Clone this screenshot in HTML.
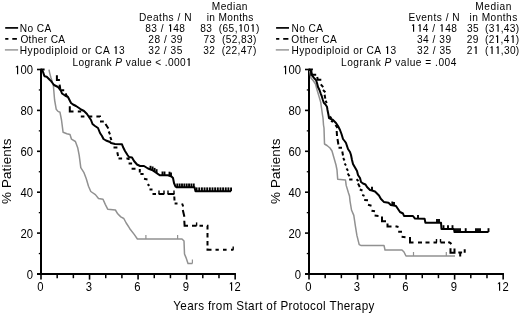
<!DOCTYPE html>
<html><head><meta charset="utf-8"><style>
html,body{margin:0;padding:0;background:#fff;width:520px;height:314px;overflow:hidden}
svg{display:block;will-change:transform}
text{font-family:"Liberation Sans",sans-serif;fill:#000}
.h{font-size:10.7px}
.t{font-size:12px}
.x{font-size:12.3px}
.p{font-size:13.4px}
.one{fill-opacity:0}
</style></head><body>
<svg width="520" height="314" viewBox="0 0 520 314">
<line x1="41" y1="68.8" x2="41" y2="275" stroke="#000" stroke-width="2"/>
<line x1="37" y1="274" x2="235.96" y2="274" stroke="#000" stroke-width="2"/>
<line x1="37" y1="274.00" x2="41" y2="274.00" stroke="#000" stroke-width="1.6"/>
<line x1="38.8" y1="253.55" x2="41" y2="253.55" stroke="#000" stroke-width="1.3"/>
<line x1="37" y1="233.10" x2="41" y2="233.10" stroke="#000" stroke-width="1.6"/>
<line x1="38.8" y1="212.65" x2="41" y2="212.65" stroke="#000" stroke-width="1.3"/>
<line x1="37" y1="192.20" x2="41" y2="192.20" stroke="#000" stroke-width="1.6"/>
<line x1="38.8" y1="171.75" x2="41" y2="171.75" stroke="#000" stroke-width="1.3"/>
<line x1="37" y1="151.30" x2="41" y2="151.30" stroke="#000" stroke-width="1.6"/>
<line x1="38.8" y1="130.85" x2="41" y2="130.85" stroke="#000" stroke-width="1.3"/>
<line x1="37" y1="110.40" x2="41" y2="110.40" stroke="#000" stroke-width="1.6"/>
<line x1="38.8" y1="89.95" x2="41" y2="89.95" stroke="#000" stroke-width="1.3"/>
<line x1="37" y1="69.50" x2="41" y2="69.50" stroke="#000" stroke-width="1.6"/>
<line x1="41.00" y1="274" x2="41.00" y2="279.6" stroke="#000" stroke-width="1.6"/>
<line x1="57.18" y1="274" x2="57.18" y2="278.2" stroke="#000" stroke-width="1.5"/>
<line x1="73.36" y1="274" x2="73.36" y2="278.2" stroke="#000" stroke-width="1.5"/>
<line x1="89.54" y1="274" x2="89.54" y2="279.6" stroke="#000" stroke-width="1.6"/>
<line x1="105.72" y1="274" x2="105.72" y2="278.2" stroke="#000" stroke-width="1.5"/>
<line x1="121.90" y1="274" x2="121.90" y2="278.2" stroke="#000" stroke-width="1.5"/>
<line x1="138.08" y1="274" x2="138.08" y2="279.6" stroke="#000" stroke-width="1.6"/>
<line x1="154.26" y1="274" x2="154.26" y2="278.2" stroke="#000" stroke-width="1.5"/>
<line x1="170.44" y1="274" x2="170.44" y2="278.2" stroke="#000" stroke-width="1.5"/>
<line x1="186.62" y1="274" x2="186.62" y2="279.6" stroke="#000" stroke-width="1.6"/>
<line x1="202.80" y1="274" x2="202.80" y2="278.2" stroke="#000" stroke-width="1.5"/>
<line x1="218.98" y1="274" x2="218.98" y2="278.2" stroke="#000" stroke-width="1.5"/>
<line x1="235.16" y1="274" x2="235.16" y2="279.6" stroke="#000" stroke-width="1.6"/>
<text x="35.106" y="278.75" text-anchor="end" class="t" transform="scale(0.94,1)">0</text>
<text x="35.106" y="237.85" text-anchor="end" class="t" transform="scale(0.94,1)">20</text>
<text x="35.106" y="196.95" text-anchor="end" class="t" transform="scale(0.94,1)">40</text>
<text x="35.106" y="156.05" text-anchor="end" class="t" transform="scale(0.94,1)">60</text>
<text x="35.106" y="115.15" text-anchor="end" class="t" transform="scale(0.94,1)">80</text>
<text x="35.106" y="74.25" text-anchor="end" class="t" transform="scale(0.94,1)"><tspan class="one">1</tspan>00</text>
<text x="42.872" y="290.8" text-anchor="middle" class="t" transform="scale(0.94,1)">0</text>
<text x="94.511" y="290.8" text-anchor="middle" class="t" transform="scale(0.94,1)">3</text>
<text x="146.149" y="290.8" text-anchor="middle" class="t" transform="scale(0.94,1)">6</text>
<text x="197.787" y="290.8" text-anchor="middle" class="t" transform="scale(0.94,1)">9</text>
<text x="249.426" y="290.8" text-anchor="middle" class="t" transform="scale(0.94,1)"><tspan class="one">1</tspan>2</text>
<line x1="309" y1="68.8" x2="309" y2="275" stroke="#000" stroke-width="2"/>
<line x1="305" y1="274" x2="503.96" y2="274" stroke="#000" stroke-width="2"/>
<line x1="305" y1="274.00" x2="309" y2="274.00" stroke="#000" stroke-width="1.6"/>
<line x1="306.8" y1="253.55" x2="309" y2="253.55" stroke="#000" stroke-width="1.3"/>
<line x1="305" y1="233.10" x2="309" y2="233.10" stroke="#000" stroke-width="1.6"/>
<line x1="306.8" y1="212.65" x2="309" y2="212.65" stroke="#000" stroke-width="1.3"/>
<line x1="305" y1="192.20" x2="309" y2="192.20" stroke="#000" stroke-width="1.6"/>
<line x1="306.8" y1="171.75" x2="309" y2="171.75" stroke="#000" stroke-width="1.3"/>
<line x1="305" y1="151.30" x2="309" y2="151.30" stroke="#000" stroke-width="1.6"/>
<line x1="306.8" y1="130.85" x2="309" y2="130.85" stroke="#000" stroke-width="1.3"/>
<line x1="305" y1="110.40" x2="309" y2="110.40" stroke="#000" stroke-width="1.6"/>
<line x1="306.8" y1="89.95" x2="309" y2="89.95" stroke="#000" stroke-width="1.3"/>
<line x1="305" y1="69.50" x2="309" y2="69.50" stroke="#000" stroke-width="1.6"/>
<line x1="309.00" y1="274" x2="309.00" y2="279.6" stroke="#000" stroke-width="1.6"/>
<line x1="325.18" y1="274" x2="325.18" y2="278.2" stroke="#000" stroke-width="1.5"/>
<line x1="341.36" y1="274" x2="341.36" y2="278.2" stroke="#000" stroke-width="1.5"/>
<line x1="357.54" y1="274" x2="357.54" y2="279.6" stroke="#000" stroke-width="1.6"/>
<line x1="373.72" y1="274" x2="373.72" y2="278.2" stroke="#000" stroke-width="1.5"/>
<line x1="389.90" y1="274" x2="389.90" y2="278.2" stroke="#000" stroke-width="1.5"/>
<line x1="406.08" y1="274" x2="406.08" y2="279.6" stroke="#000" stroke-width="1.6"/>
<line x1="422.26" y1="274" x2="422.26" y2="278.2" stroke="#000" stroke-width="1.5"/>
<line x1="438.44" y1="274" x2="438.44" y2="278.2" stroke="#000" stroke-width="1.5"/>
<line x1="454.62" y1="274" x2="454.62" y2="279.6" stroke="#000" stroke-width="1.6"/>
<line x1="470.80" y1="274" x2="470.80" y2="278.2" stroke="#000" stroke-width="1.5"/>
<line x1="486.98" y1="274" x2="486.98" y2="278.2" stroke="#000" stroke-width="1.5"/>
<line x1="503.16" y1="274" x2="503.16" y2="279.6" stroke="#000" stroke-width="1.6"/>
<text x="320.213" y="278.75" text-anchor="end" class="t" transform="scale(0.94,1)">0</text>
<text x="320.213" y="237.85" text-anchor="end" class="t" transform="scale(0.94,1)">20</text>
<text x="320.213" y="196.95" text-anchor="end" class="t" transform="scale(0.94,1)">40</text>
<text x="320.213" y="156.05" text-anchor="end" class="t" transform="scale(0.94,1)">60</text>
<text x="320.213" y="115.15" text-anchor="end" class="t" transform="scale(0.94,1)">80</text>
<text x="320.213" y="74.25" text-anchor="end" class="t" transform="scale(0.94,1)"><tspan class="one">1</tspan>00</text>
<text x="327.979" y="290.8" text-anchor="middle" class="t" transform="scale(0.94,1)">0</text>
<text x="379.617" y="290.8" text-anchor="middle" class="t" transform="scale(0.94,1)">3</text>
<text x="431.255" y="290.8" text-anchor="middle" class="t" transform="scale(0.94,1)">6</text>
<text x="482.894" y="290.8" text-anchor="middle" class="t" transform="scale(0.94,1)">9</text>
<text x="534.532" y="290.8" text-anchor="middle" class="t" transform="scale(0.94,1)"><tspan class="one">1</tspan>2</text>
<polyline points="49,69.6 49.7,73.1 50.8,77.2 51.8,80.3 53.4,86 54.6,100 56.2,109.2 58,111.4 60,112.3 61.5,120 63.1,132.3 66.9,133.8 70,134.6 71.5,139.2 75.4,141.5 77.7,147.7 79.2,155.4 80.8,167.7 83.8,172.3 86.2,178.5 88.5,186.2 90.8,191.5 95.4,194.6 98.5,198.5 103,199.2 105.4,204.6 107.7,209.2 115.4,210 117.7,213.8 120.8,216.9 123.8,218.5 126.2,223 129.2,227.7 130,229 134.2,234.4 137.4,239 182,239 184,241 184.5,254 186,257.6 188,263.5 192.4,263.5" fill="none" stroke="#919191" stroke-width="1.5" stroke-linejoin="round"/>
<line x1="145.9" y1="235" x2="145.9" y2="239" stroke="#919191" stroke-width="1.2"/>
<line x1="177.6" y1="235" x2="177.6" y2="239" stroke="#919191" stroke-width="1.2"/>
<line x1="192.4" y1="259.5" x2="192.4" y2="263.5" stroke="#919191" stroke-width="1.2"/>
<path d="M41,69.6 L44.6,69.6 M56.9,75.2 L56.9,79.9 L59.9,79.9 M59.6,84.6 L60.3,89.0 M60.6,90.2 L64.2,90.2 M65.6,93.4 L67.0,96.6 M69.8,106.3 L69.8,111.4 L73.5,111.4 M77.8,111.4 L80.2,111.4 L80.2,112.6 M80.8,116.4 L84.4,116.4 M88.5,116.4 L92.3,116.4 M96.4,116.4 L100.0,116.4 L100.0,116.9 M100.0,121.6 L103.8,121.6 M105.5,124.0 L108.4,128.5 M108.7,131.5 L110.0,134.3 M110.3,137.0 L111.4,140.2 M113.5,147.5 L117.4,147.5 M117.3,152.2 L118.1,156.0 M118.5,158.5 L122.1,158.5 M126.4,158.5 L128.6,158.5 L128.6,160.0 M128.6,163.6 L132.1,163.6 M131.6,168.7 L135.5,168.7 M139.8,169.0 L139.8,172.5 M140.4,174.0 L143.6,174.0 M144.0,178.8 L147.5,179.4 M147.6,184.2 L149.4,185.8 M149.5,189.6 L152.5,189.6 M152.5,194.0 L156.0,194.0 M158.6,194.0 L164.3,194.0 M167.6,194.0 L174.4,194.0 M174.3,196.5 L174.5,200.5 M174.6,203.5 L177.5,203.5 M182.1,203.5 L183.2,206.5 M182.8,210.0 L184.4,216.7 M184.3,220.8 L184.6,225.8 L188.0,225.8 M192.0,225.8 L196.6,225.8 M199.5,225.8 L203.0,225.8 M207.0,225.8 L207.5,225.8 L207.5,229.5 M207.5,233.0 L207.5,237.5 M207.5,241.0 L207.5,245.5 M207.5,248.5 L207.5,249.8 L211.5,249.8 M215.5,249.8 L218.8,249.8 M223.0,249.8 L226.6,249.8 M231.0,249.8 L233.4,249.8" fill="none" stroke="#000" stroke-width="2.0" stroke-linejoin="miter"/>
<line x1="159" y1="190.6" x2="159" y2="194" stroke="#000" stroke-width="1.4"/>
<line x1="164" y1="190.6" x2="164" y2="194" stroke="#000" stroke-width="1.4"/>
<line x1="168" y1="190.6" x2="168" y2="194" stroke="#000" stroke-width="1.4"/>
<line x1="174" y1="190.6" x2="174" y2="194" stroke="#000" stroke-width="1.4"/>
<line x1="196.6" y1="222.4" x2="196.6" y2="225.8" stroke="#000" stroke-width="1.4"/>
<line x1="233.2" y1="246.4" x2="233.2" y2="249.8" stroke="#000" stroke-width="1.4"/>
<polyline points="41,69.6 42.1,70.1 43.1,72.1 44.1,75.2 44.6,76.2 46.7,76.7 48.2,78.2 49.7,79.8 51.3,81.3 52.5,83 54,85 56,86 58,87 59.5,89 61,91 62,93.5 65,95.5 68,97 69.5,100 71,103 73,104.5 76,106 79,108 81,109.5 84,111 87,114 89,117 91,120 92.5,124 95,126 98,128 100,133 102,136 103.5,139 106,140.5 110,142 111,143 115,144 122,144.3 123,147 125,151 127.5,155 129,157 132,157.5 134,161 137,164.5 140,166 144,166 148,168.5 152,170 155,172 160,175.3 168,175.3 171.5,176.5 173,178 174,183 175.5,186.5 176.5,187.3 194.5,187.3 195.5,191.2 231,191.2" fill="none" stroke="#000" stroke-width="2.0" stroke-linejoin="round"/>
<line x1="150.5" y1="165.79999999999998" x2="150.5" y2="169.6" stroke="#000" stroke-width="1.9"/>
<line x1="152.6" y1="166.5" x2="152.6" y2="170.3" stroke="#000" stroke-width="1.9"/>
<line x1="154.6" y1="167.89999999999998" x2="154.6" y2="171.7" stroke="#000" stroke-width="1.9"/>
<line x1="156.6" y1="169.2" x2="156.6" y2="173" stroke="#000" stroke-width="1.9"/>
<line x1="162.5" y1="171.5" x2="162.5" y2="175.3" stroke="#000" stroke-width="1.9"/>
<line x1="164.5" y1="171.5" x2="164.5" y2="175.3" stroke="#000" stroke-width="1.9"/>
<line x1="169.5" y1="171.7" x2="169.5" y2="175.5" stroke="#000" stroke-width="1.9"/>
<line x1="171" y1="172.5" x2="171" y2="176.3" stroke="#000" stroke-width="1.9"/>
<line x1="177.3" y1="183.5" x2="177.3" y2="187.3" stroke="#000" stroke-width="1.9"/>
<line x1="179.65" y1="183.5" x2="179.65" y2="187.3" stroke="#000" stroke-width="1.9"/>
<line x1="182.0" y1="183.5" x2="182.0" y2="187.3" stroke="#000" stroke-width="1.9"/>
<line x1="184.35000000000002" y1="183.5" x2="184.35000000000002" y2="187.3" stroke="#000" stroke-width="1.9"/>
<line x1="186.70000000000002" y1="183.5" x2="186.70000000000002" y2="187.3" stroke="#000" stroke-width="1.9"/>
<line x1="189.05" y1="183.5" x2="189.05" y2="187.3" stroke="#000" stroke-width="1.9"/>
<line x1="191.4" y1="183.5" x2="191.4" y2="187.3" stroke="#000" stroke-width="1.9"/>
<line x1="193.75" y1="183.5" x2="193.75" y2="187.3" stroke="#000" stroke-width="1.9"/>
<line x1="196.6" y1="187.39999999999998" x2="196.6" y2="191.2" stroke="#000" stroke-width="1.9"/>
<line x1="199.25" y1="187.39999999999998" x2="199.25" y2="191.2" stroke="#000" stroke-width="1.9"/>
<line x1="201.9" y1="187.39999999999998" x2="201.9" y2="191.2" stroke="#000" stroke-width="1.9"/>
<line x1="204.54999999999998" y1="187.39999999999998" x2="204.54999999999998" y2="191.2" stroke="#000" stroke-width="1.9"/>
<line x1="207.2" y1="187.39999999999998" x2="207.2" y2="191.2" stroke="#000" stroke-width="1.9"/>
<line x1="209.85" y1="187.39999999999998" x2="209.85" y2="191.2" stroke="#000" stroke-width="1.9"/>
<line x1="212.5" y1="187.39999999999998" x2="212.5" y2="191.2" stroke="#000" stroke-width="1.9"/>
<line x1="215.15" y1="187.39999999999998" x2="215.15" y2="191.2" stroke="#000" stroke-width="1.9"/>
<line x1="217.79999999999998" y1="187.39999999999998" x2="217.79999999999998" y2="191.2" stroke="#000" stroke-width="1.9"/>
<line x1="220.45" y1="187.39999999999998" x2="220.45" y2="191.2" stroke="#000" stroke-width="1.9"/>
<line x1="223.1" y1="187.39999999999998" x2="223.1" y2="191.2" stroke="#000" stroke-width="1.9"/>
<line x1="225.75" y1="187.39999999999998" x2="225.75" y2="191.2" stroke="#000" stroke-width="1.9"/>
<line x1="228.39999999999998" y1="187.39999999999998" x2="228.39999999999998" y2="191.2" stroke="#000" stroke-width="1.9"/>
<line x1="231.04999999999998" y1="187.39999999999998" x2="231.04999999999998" y2="191.2" stroke="#000" stroke-width="1.9"/>
<polyline points="309.5,69.7 311,78 313.5,81 315.5,84 316.8,89 317.7,92 319.2,97.1 320.7,102.2 321.5,108 322.5,115 323,118 323.5,125 324,128 324.5,144 327,145.5 330,148 332,151 334,158 336,165 337,170 337.7,179.2 345.5,180 346.2,185.4 348.5,193 349.5,196 350,200.8 351.5,210 353.8,215.4 355.4,226.2 356.9,235.4 359.2,244.6 360.8,245.4 384,245.4 385,250 402,250 404,252 406,256 455,256" fill="none" stroke="#919191" stroke-width="1.5" stroke-linejoin="round"/>
<line x1="413.5" y1="252" x2="413.5" y2="256" stroke="#919191" stroke-width="1.2"/>
<line x1="446.3" y1="252" x2="446.3" y2="256" stroke="#919191" stroke-width="1.2"/>
<path d="M309,69.6 L312.9,69.6 M311.3,71 L311.3,74.7 L316.2,74.7 M317.2,77.0 L317.8,79.8 L321.3,79.8 M320.8,84.3 L323.2,87.1 M323.0,90.0 L325.4,92.2 M324.6,94.8 L325.3,98.6 M325.5,100.7 L326.8,103.0 M329.5,116.5 L331.5,118 M331,120.8 L333,121.8 M335.5,125 L337.5,128 M336.7,131 L337,136 M337.5,139 L338.4,144.5 M338.5,147.7 L342,147.7 M342.3,151.5 L343,155.5 M343.2,158 L344.5,160.5 M344.6,163.5 L346,165.5 M346.5,168.5 L348,170.8 M347.7,173.5 L349.5,176.2 M349.2,179.5 L352.5,179.5 M356.5,179.2 L358.5,181 M358,183.5 L359.8,187 M359.8,189.5 L362.5,190.5 M362.2,194.8 L364.5,195.8 M364.2,200 L368,200.3 M368,204.8 L371.5,205.8 M371.5,210.7 L375,211.3 M374.6,215.6 L378.5,215.9 M382,216.5 L382,221.2 L386,221.2 M387.5,223.5 L387.5,226.4 L391.5,226.4 M395.5,226.2 L398.5,227 M398.2,231.8 L402,231.8 M401.6,236.8 L405.5,237.2 M410,237 L410,242.4 L413.5,242.4 M418,242.4 L422,242.4 M425.5,242.4 L429.5,242.4 M433.5,242.4 L437,242.4 M440.5,242.4 L445,242.4 M448.3,242 L450.5,243 L451.2,244.2 M450.5,248.3 L450.5,252.8 L454.5,252.8 L454.5,248.5 M458.3,252.6 L462.1,252.6 M460.2,252.6 L460.2,256.4 M464.7,249.2 L464.7,252.8" fill="none" stroke="#000" stroke-width="2.0" stroke-linejoin="miter"/>
<line x1="436.5" y1="239.0" x2="436.5" y2="242.4" stroke="#000" stroke-width="1.4"/>
<line x1="440.5" y1="239.0" x2="440.5" y2="242.4" stroke="#000" stroke-width="1.4"/>
<polyline points="309,69.7 310.8,70 311.6,73.7 312.6,76.2 314.2,78.2 316,80 317,83 318,87 319.6,90.2 320.6,93.3 321.7,96 322.8,99.7 323.8,102.7 325.3,104.2 327,106.8 327.5,110 328.5,115 329,118 333,120 336,123 338,126 340,130 341.5,134 343,139 345,141.5 346,143 348,149 350,152 351,155 352,160 353,164 355,167.5 357,171 358,175 360,178 361,182 363,183.5 365.5,184.5 367,187 370,190 372,190.5 375,191.5 377,193.5 379,195.5 380.8,198.8 383.8,201.9 388.5,202.7 390.8,205 395,205.8 396,206 398,209 400,212 403,213.5 404,216 413,216 415,218.6 424.6,218.8 425.4,222.7 441,222.7 441.5,229 454,229 454.5,232 488.5,232" fill="none" stroke="#000" stroke-width="2.0" stroke-linejoin="round"/>
<line x1="372" y1="186.7" x2="372" y2="190.5" stroke="#000" stroke-width="1.9"/>
<line x1="392.3" y1="201.5" x2="392.3" y2="205.3" stroke="#000" stroke-width="1.9"/>
<line x1="394" y1="202.0" x2="394" y2="205.8" stroke="#000" stroke-width="1.9"/>
<line x1="418" y1="214.89999999999998" x2="418" y2="218.7" stroke="#000" stroke-width="1.9"/>
<line x1="437" y1="218.89999999999998" x2="437" y2="222.7" stroke="#000" stroke-width="1.9"/>
<line x1="439" y1="218.89999999999998" x2="439" y2="222.7" stroke="#000" stroke-width="1.9"/>
<line x1="443.5" y1="225.2" x2="443.5" y2="229" stroke="#000" stroke-width="1.9"/>
<line x1="448" y1="225.2" x2="448" y2="229" stroke="#000" stroke-width="1.9"/>
<line x1="452.5" y1="225.2" x2="452.5" y2="229" stroke="#000" stroke-width="1.9"/>
<line x1="456" y1="228.2" x2="456" y2="232" stroke="#000" stroke-width="1.9"/>
<line x1="458" y1="228.2" x2="458" y2="232" stroke="#000" stroke-width="1.9"/>
<line x1="460" y1="228.2" x2="460" y2="232" stroke="#000" stroke-width="1.9"/>
<line x1="465.7" y1="228.2" x2="465.7" y2="232" stroke="#000" stroke-width="1.9"/>
<line x1="476" y1="228.2" x2="476" y2="232" stroke="#000" stroke-width="1.9"/>
<line x1="478" y1="228.2" x2="478" y2="232" stroke="#000" stroke-width="1.9"/>
<line x1="480" y1="228.2" x2="480" y2="232" stroke="#000" stroke-width="1.9"/>
<line x1="488.5" y1="228.2" x2="488.5" y2="232" stroke="#000" stroke-width="1.9"/>
<line x1="5.2" y1="27.9" x2="18.1" y2="27.9" stroke="#000" stroke-width="1.7"/>
<path d="M5.2,38.9 H8.4 M12.3,38.9 H16.9" stroke="#000" stroke-width="1.7" fill="none"/>
<line x1="4.9" y1="49.9" x2="18.1" y2="49.9" stroke="#919191" stroke-width="1.4"/>
<line x1="276.09999999999997" y1="27.9" x2="289.0" y2="27.9" stroke="#000" stroke-width="1.7"/>
<path d="M276.09999999999997,38.9 H279.29999999999995 M283.2,38.9 H288.4" stroke="#000" stroke-width="1.7" fill="none"/>
<line x1="275.79999999999995" y1="49.9" x2="289.0" y2="49.9" stroke="#919191" stroke-width="1.4"/>
<text class="h" x="20.830" y="31.8" transform="scale(0.95,1)" xml:space="preserve" textLength="33.123" lengthAdjust="spacing">No CA</text>
<text class="h" x="21.461" y="42.9" transform="scale(0.95,1)" xml:space="preserve" textLength="47.067" lengthAdjust="spacing">Other CA</text>
<text class="h" x="20.834" y="54.0" transform="scale(0.95,1)" xml:space="preserve" textLength="110.460" lengthAdjust="spacing">Hypodiploid or CA <tspan class="one">1</tspan>3</text>
<text class="h" x="146.303" y="20.7" transform="scale(0.95,1)" xml:space="preserve" textLength="55.285" lengthAdjust="spacing">Deaths / N</text>
<text class="h" x="152.958" y="31.8" transform="scale(0.95,1)" xml:space="preserve" textLength="41.705" lengthAdjust="spacing">83 / <tspan class="one">1</tspan>48</text>
<text class="h" x="156.103" y="42.9" transform="scale(0.95,1)" xml:space="preserve" textLength="36.029" lengthAdjust="spacing">28 / 39</text>
<text class="h" x="156.050" y="54.0" transform="scale(0.95,1)" xml:space="preserve" textLength="35.848" lengthAdjust="spacing">32 / 35</text>
<text class="h" x="222.871" y="9.6" transform="scale(0.95,1)" xml:space="preserve" textLength="37.670" lengthAdjust="spacing">Median</text>
<text class="h" x="217.602" y="20.7" transform="scale(0.95,1)" xml:space="preserve" textLength="49.105" lengthAdjust="spacing">in Months</text>
<text class="h" x="210.852" y="31.8" transform="scale(0.95,1)" xml:space="preserve" textLength="62.133" lengthAdjust="spacing">83  (65,<tspan class="one">1</tspan>0<tspan class="one">1</tspan>)</text>
<text class="h" x="214.324" y="42.9" transform="scale(0.95,1)" xml:space="preserve" textLength="55.624" lengthAdjust="spacing">73  (52,83)</text>
<text class="h" x="213.903" y="54.0" transform="scale(0.95,1)" xml:space="preserve" textLength="55.905" lengthAdjust="spacing">32  (22,47)</text>
<text class="h" x="76.281" y="65.9" transform="scale(0.95,1)" xml:space="preserve" textLength="125.600" lengthAdjust="spacing">Logrank <tspan font-style="italic">P</tspan> value &lt; .000<tspan class="one">1</tspan></text>
<text class="h" x="306.807" y="31.8" transform="scale(0.95,1)" xml:space="preserve" textLength="33.267" lengthAdjust="spacing">No CA</text>
<text class="h" x="306.658" y="42.9" transform="scale(0.95,1)" xml:space="preserve" textLength="47.777" lengthAdjust="spacing">Other CA</text>
<text class="h" x="306.807" y="54.0" transform="scale(0.95,1)" xml:space="preserve" textLength="110.096" lengthAdjust="spacing">Hypodiploid or CA <tspan class="one">1</tspan>3</text>
<text class="h" x="429.899" y="20.7" transform="scale(0.95,1)" xml:space="preserve" textLength="53.935" lengthAdjust="spacing">Events / N</text>
<text class="h" x="432.130" y="31.8" transform="scale(0.95,1)" xml:space="preserve" textLength="48.894" lengthAdjust="spacing"><tspan class="one">1</tspan><tspan class="one">1</tspan>4 / <tspan class="one">1</tspan>48</text>
<text class="h" x="438.908" y="42.9" transform="scale(0.95,1)" xml:space="preserve" textLength="35.856" lengthAdjust="spacing">34 / 39</text>
<text class="h" x="438.908" y="54.0" transform="scale(0.95,1)" xml:space="preserve" textLength="36.128" lengthAdjust="spacing">32 / 35</text>
<text class="h" x="500.221" y="9.6" transform="scale(0.95,1)" xml:space="preserve" textLength="38.012" lengthAdjust="spacing">Median</text>
<text class="h" x="494.241" y="20.7" transform="scale(0.95,1)" xml:space="preserve" textLength="50.224" lengthAdjust="spacing">in Months</text>
<text class="h" x="491.540" y="31.8" transform="scale(0.95,1)" xml:space="preserve" textLength="54.881" lengthAdjust="spacing">35  (3<tspan class="one">1</tspan>,43)</text>
<text class="h" x="491.300" y="42.9" transform="scale(0.95,1)" xml:space="preserve" textLength="55.120" lengthAdjust="spacing">29  (2<tspan class="one">1</tspan>,4<tspan class="one">1</tspan>)</text>
<text class="h" x="491.300" y="54.0" transform="scale(0.95,1)" xml:space="preserve" textLength="55.289" lengthAdjust="spacing">2<tspan class="one">1</tspan>  (<tspan class="one">1</tspan><tspan class="one">1</tspan>,30)</text>
<text class="h" x="358.964" y="65.9" transform="scale(0.95,1)" xml:space="preserve" textLength="121.432" lengthAdjust="spacing">Logrank <tspan font-style="italic">P</tspan> value = .004</text>
<text class="x" x="182.366" y="309.9" transform="scale(0.95,1)" xml:space="preserve" textLength="211.657" lengthAdjust="spacing">Years from Start of Protocol Therapy</text>
<text x="11.0" y="171.3" transform="rotate(-90 11.0 171.3)" text-anchor="middle" class="p" textLength="65.5" lengthAdjust="spacing">% Patients</text>
<text x="279.9" y="171.3" transform="rotate(-90 279.9 171.3)" text-anchor="middle" class="p" textLength="65.5" lengthAdjust="spacing">% Patients</text>
<path d="M17.00,65.66 L18.15,65.66 L18.15,74.25 L17.00,74.25 L17.00,67.05 L15.82,67.83 L15.82,66.87Z M231.00,282.21 L232.15,282.21 L232.15,290.80 L231.00,290.80 L231.00,283.60 L229.82,284.38 L229.82,283.42Z M285.00,65.66 L286.15,65.66 L286.15,74.25 L285.00,74.25 L285.00,67.05 L283.82,67.83 L283.82,66.87Z M499.00,282.21 L500.15,282.21 L500.15,290.80 L499.00,290.80 L499.00,283.60 L497.82,284.38 L497.82,283.42Z M115.50,46.34 L116.65,46.34 L116.65,54.00 L115.50,54.00 L115.50,47.58 L114.43,48.28 L114.43,47.42Z M170.00,24.14 L171.15,24.14 L171.15,31.80 L170.00,31.80 L170.00,25.38 L168.93,26.08 L168.93,25.22Z M240.50,24.14 L241.65,24.14 L241.65,31.80 L240.50,31.80 L240.50,25.38 L239.43,26.08 L239.43,25.22Z M252.50,24.14 L253.65,24.14 L253.65,31.80 L252.50,31.80 L252.50,25.38 L251.43,26.08 L251.43,25.22Z M188.50,58.24 L189.65,58.24 L189.65,65.90 L188.50,65.90 L188.50,59.48 L187.43,60.18 L187.43,59.32Z M387.00,46.34 L388.15,46.34 L388.15,54.00 L387.00,54.00 L387.00,47.58 L385.93,48.28 L385.93,47.42Z M413.00,24.14 L414.15,24.14 L414.15,31.80 L413.00,31.80 L413.00,25.38 L411.93,26.08 L411.93,25.22Z M419.50,24.14 L420.65,24.14 L420.65,31.80 L419.50,31.80 L419.50,25.38 L418.43,26.08 L418.43,25.22Z M441.50,24.14 L442.65,24.14 L442.65,31.80 L441.50,31.80 L441.50,25.38 L440.43,26.08 L440.43,25.22Z M497.50,24.14 L498.65,24.14 L498.65,31.80 L497.50,31.80 L497.50,25.38 L496.43,26.08 L496.43,25.22Z M497.00,35.24 L498.15,35.24 L498.15,42.90 L497.00,42.90 L497.00,36.48 L495.93,37.18 L495.93,36.32Z M512.50,35.24 L513.65,35.24 L513.65,42.90 L512.50,42.90 L512.50,36.48 L511.43,37.18 L511.43,36.32Z M475.50,46.34 L476.65,46.34 L476.65,54.00 L475.50,54.00 L475.50,47.58 L474.43,48.28 L474.43,47.42Z M491.50,46.34 L492.65,46.34 L492.65,54.00 L491.50,54.00 L491.50,47.58 L490.43,48.28 L490.43,47.42Z M497.50,46.34 L498.65,46.34 L498.65,54.00 L497.50,54.00 L497.50,47.58 L496.43,48.28 L496.43,47.42Z" fill="#000"/>
</svg>
</body></html>
